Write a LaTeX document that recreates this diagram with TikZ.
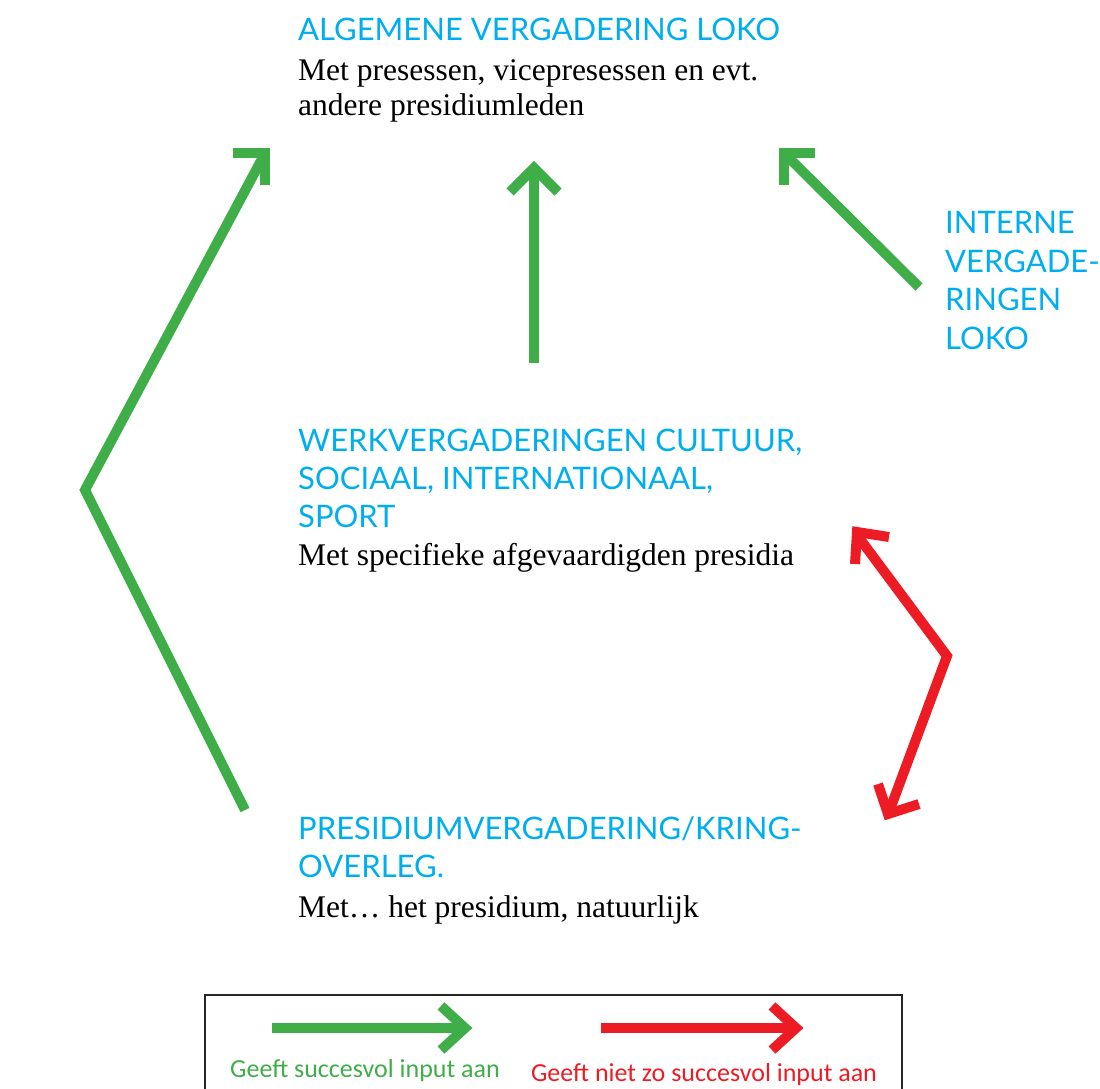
\documentclass[tikz,border=0pt]{standalone}
\usepackage{fontspec}
\setmainfont{Liberation Serif}
\newfontfamily\headfont{Lato}
\newfontfamily\legfont{Carlito}
\definecolor{okgreen}{HTML}{3FAE49}
\definecolor{badred}{HTML}{ED1C24}
\definecolor{headblue}{HTML}{00AEEF}
\begin{document}
\begin{tikzpicture}[x=1pt,y=-1pt,
  headtxt/.style={anchor=base west,inner sep=0pt,text=headblue,font=\headfont\fontsize{31}{36}\selectfont},
  bodytxt/.style={anchor=base west,inner sep=0pt,text=black,font=\fontsize{31.5}{36}\selectfont},
  legtxt/.style={anchor=base,inner sep=0pt,font=\legfont\fontsize{26}{30}\selectfont},
  gline/.style={draw=okgreen,line width=10pt,line join=miter,miter limit=10},
  rline/.style={draw=badred,line width=10pt,line join=miter,miter limit=10}]
\useasboundingbox (0,0) rectangle (1100,1089);
% texts
\node[headtxt] (h1) at (298,41) {ALGEMENE VERGADERING LOKO};
\node[bodytxt] (b1a) at (298,81) {Met presessen, vicepresessen en evt.};
\node[bodytxt] (b1b) at (298,116) {andere presidiumleden};
\node[headtxt] (i1) at (945,233) {INTERNE};
\node[headtxt] (i2) at (945,272) {VERGADE-};
\node[headtxt] (i3) at (945,310) {RINGEN};
\node[headtxt] (i4) at (945,349) {LOKO};
\node[headtxt] (w1) at (298,451) {WERKVERGADERINGEN CULTUUR,};
\node[headtxt] (w2) at (298,489) {SOCIAAL, INTERNATIONAAL,};
\node[headtxt] (w3) at (298,527) {SPORT};
\node[bodytxt] (wb) at (298,565) {Met specifieke afgevaardigden presidia};
\node[headtxt] (p1) at (298,839) {PRESIDIUMVERGADERING/KRING-};
\node[headtxt] (p2) at (298,877) {OVERLEG.};
\node[bodytxt] (pb) at (298,917) {Met\ldots\ het presidium, natuurlijk};
% coordinates of connectors
\coordinate (lb) at (245,810);
\coordinate (lv) at (85,490);
\coordinate (lt) at (263,157);
\coordinate (cb) at (534,363);
\coordinate (ct) at (534,172);
\coordinate (rb) at (919,287);
\coordinate (rt) at (786,155);
\coordinate (xt) at (857,535);
\coordinate (xv) at (947,656);
\coordinate (xb) at (889,812);
% green connectors
\draw[gline] (lb) -- (lv) -- (lt);
\draw[gline] (233,153) -- (265,153) -- (265,185);
\draw[gline] (cb) -- (ct);
\draw[gline] (510,192) -- (534,168) -- (558,192);
\draw[gline] (rb) -- (rt);
\draw[gline] (815,153) -- (784,153) -- (784,185);
% red connector
\draw[rline] (xt) -- (xv) -- (xb);
\draw[rline] (889,537) -- (857,532) -- (855,564);
\draw[rline] (878,784) -- (888,814) -- (919,804);
% legend
\draw[line width=1.2pt,draw=black!85] (205,995) rectangle (902,1100);
\coordinate (ga) at (272,1028);
\coordinate (gb) at (462,1028);
\draw[gline] (ga) -- (gb);
\draw[gline] (441,1006) -- (465,1028) -- (441,1050);
\coordinate (ra) at (601,1028);
\coordinate (rbb) at (792,1028);
\draw[rline] (ra) -- (rbb);
\draw[rline] (772,1006) -- (796,1028) -- (772,1050);
\node[legtxt,text=okgreen] (lg) at (365,1077) {Geeft succesvol input aan};
\node[legtxt,text=badred] (lr) at (704,1081) {Geeft niet zo succesvol input aan};
\end{tikzpicture}
\end{document}
